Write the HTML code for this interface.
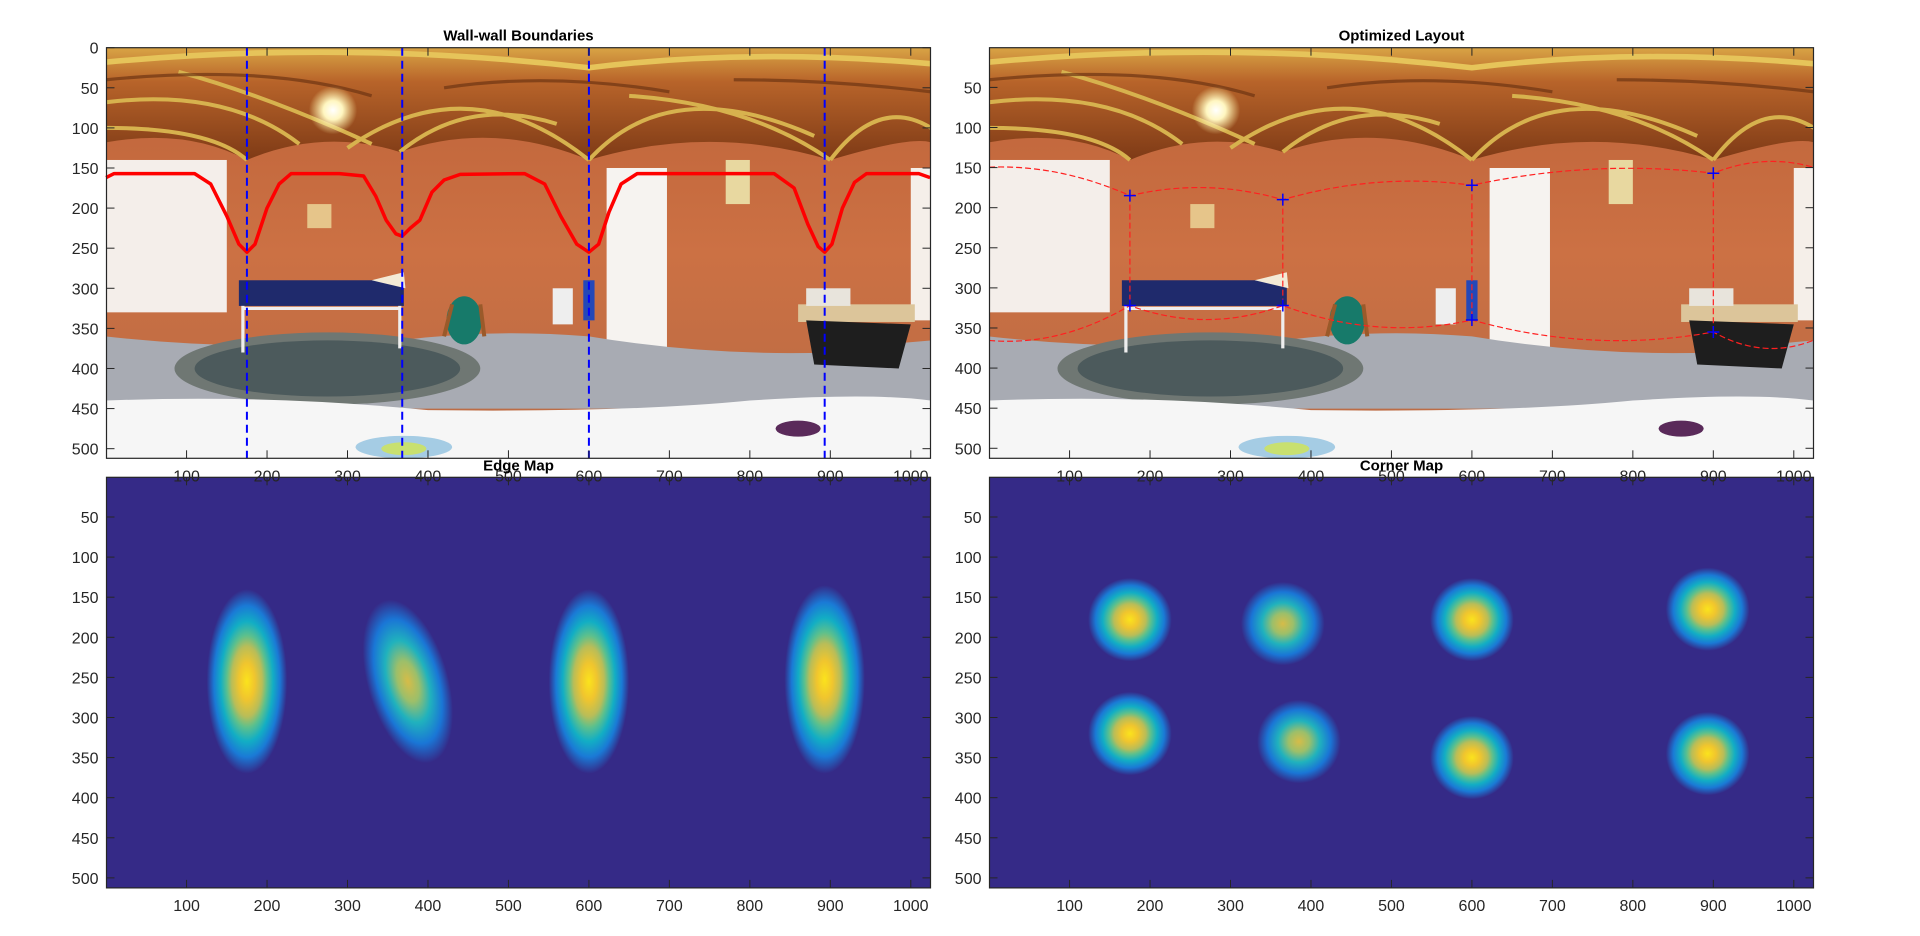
<!DOCTYPE html>
<html><head><meta charset="utf-8"><style>
html,body{margin:0;padding:0;background:#fff;width:1920px;height:936px;overflow:hidden}
text{font-family:"Liberation Sans",Arial,sans-serif}
</style></head><body>
<svg id="fig" width="1920" height="936" xmlns="http://www.w3.org/2000/svg">
<defs>
  <linearGradient id="ceil" x1="0" y1="0" x2="0" y2="1">
    <stop offset="0" stop-color="#d9a445"/><stop offset="0.3" stop-color="#b8642a"/><stop offset="1" stop-color="#7e3a16"/>
  </linearGradient>
  <linearGradient id="brick" x1="0" y1="0" x2="0" y2="1">
    <stop offset="0" stop-color="#bd6238"/><stop offset="0.5" stop-color="#cc7144"/><stop offset="1" stop-color="#b86a45"/>
  </linearGradient>
  <radialGradient id="lamp"><stop offset="0" stop-color="#ffffff"/><stop offset="0.4" stop-color="#fff6c0"/><stop offset="1" stop-color="#fff0a0" stop-opacity="0"/></radialGradient>
  <radialGradient id="par">
    <stop offset="0" stop-color="#fbe31c"/><stop offset="0.2" stop-color="#f0c52e"/><stop offset="0.38" stop-color="#b9bd58"/><stop offset="0.5" stop-color="#5cc08d"/>
    <stop offset="0.65" stop-color="#12aec4"/><stop offset="0.82" stop-color="#1a7ad6"/><stop offset="1" stop-color="#352a87"/>
  </radialGradient>
  <radialGradient id="parw">
    <stop offset="0" stop-color="#d6bc48"/><stop offset="0.25" stop-color="#9cbf6a"/><stop offset="0.5" stop-color="#20b2bd"/>
    <stop offset="0.76" stop-color="#1a76d6"/><stop offset="1" stop-color="#352a87"/>
  </radialGradient>
  <g id="photo">
    <rect x="0" y="0" width="1025" height="512" fill="url(#brick)"/>
    <path d="M0 0 H1025 V118 Q1000 110 900 140 Q750 95 600 140 Q480 90 365 130 Q270 100 175 140 Q100 100 0 118 Z" fill="url(#ceil)"/>
    <path d="M0 18 Q300 -10 600 25 Q800 0 1025 20" stroke="#e6c45a" stroke-width="7" fill="none"/>
    <path d="M0 68 Q150 50 240 120 M0 100 Q130 100 175 140 M300 125 Q450 20 600 140 M365 130 Q450 60 560 95 M600 140 Q700 30 880 110 M650 60 Q800 70 900 140 M900 140 Q960 60 1025 100 M90 30 Q200 60 330 120" stroke="#d7b24e" stroke-width="5" fill="none"/>
    <path d="M0 40 Q200 20 330 60 M420 50 Q550 30 700 55 M780 40 Q900 40 1025 55" stroke="#6d3412" stroke-width="4" fill="none" opacity="0.7"/>
    <circle cx="282" cy="78" r="30" fill="url(#lamp)"/>
    <rect x="0" y="140" width="150" height="190" fill="#f4eeea"/>
    <rect x="1000" y="150" width="25" height="190" fill="#f5efe9"/>
    <rect x="622" y="150" width="75" height="250" fill="#f6f3f0"/>
    <rect x="250" y="195" width="30" height="30" fill="#e6c58a"/>
    <rect x="770" y="140" width="30" height="55" fill="#e8d8a0"/>
    <path d="M0 360 Q175 380 365 365 Q480 350 600 360 Q750 385 900 380 Q960 370 1025 365 V450 H0 Z" fill="#a8abb3"/>
    <ellipse cx="275" cy="400" rx="190" ry="45" fill="#6f7773"/>
    <ellipse cx="275" cy="400" rx="165" ry="35" fill="#4c5a5c"/>
    <rect x="165" y="290" width="205" height="32" fill="#1f2a6c"/>
    <path d="M170 322 V380 M365 322 V375 M170 325 H365" stroke="#eeeeee" stroke-width="4" fill="none"/>
    <path d="M330 290 L370 280 L372 300 Z" fill="#f3ead6"/>
    <ellipse cx="445" cy="340" rx="22" ry="30" fill="#177a6a"/>
    <path d="M420 360 L430 320 M470 360 L465 320" stroke="#9a5a2a" stroke-width="5"/>
    <rect x="555" y="300" width="25" height="45" fill="#eeeeee"/>
    <rect x="593" y="290" width="14" height="50" fill="#2448b8"/>
    <rect x="860" y="320" width="145" height="22" fill="#dcc59a"/>
    <path d="M870 340 L1000 345 L985 400 L880 395 Z" fill="#1e1e1e"/>
    <rect x="870" y="300" width="55" height="22" fill="#e8e4dc"/>
    <path d="M0 440 Q200 432 400 452 Q650 455 800 440 Q950 430 1025 440 V512 H0 Z" fill="#f6f6f6"/>
    <ellipse cx="370" cy="498" rx="60" ry="14" fill="#6fb0d8" opacity="0.6"/>
    <ellipse cx="370" cy="500" rx="28" ry="8" fill="#c8e070"/>
    <ellipse cx="860" cy="475" rx="28" ry="10" fill="#5a2a5a"/>
  </g>
</defs>

<svg x="106.5" y="47.7" width="824" height="410.6" viewBox="0.5 0 1024 512" preserveAspectRatio="none"><use href="#photo"/></svg>
<svg x="989.5" y="47.7" width="824" height="410.6" viewBox="0.5 0 1024 512" preserveAspectRatio="none"><use href="#photo"/></svg>
<rect x="106.5" y="477.3" width="824" height="411" fill="#352a87"/>
<rect x="989.5" y="477.3" width="824" height="411" fill="#352a87"/>
<g id="marks"></g>
<g id="axes"></g>
</svg>
<script>
const boundaryX = [0,10,110,130,150,165,175,185,200,215,230,290,320,335,348,360,368,378,390,405,420,440,520,545,565,585,600,612,625,640,660,830,855,872,885,893,902,915,930,945,1010,1024];
const boundaryY = [162,157,157,170,210,245,255,245,200,170,157,157,160,185,215,232,235,225,215,180,165,158,157,170,210,245,255,245,205,170,157,157,175,220,248,255,245,200,168,157,157,162];
const wallEdgeX = [175,368,600,893];
const ceilCornerX = [175,365,600,900];
const ceilCornerY = [185,190,172,157];
const floorCornerX = [175,365,600,900];
const floorCornerY = [322,322,340,355];
const edgeBlobX = [175,375,600,893];
const edgeBlobTop = [140,150,140,135];
const edgeBlobBot = [370,360,370,370];
const edgeBlobTilt = [0,-16,0,0];
const edgeBlobStrong = [1,0,1,1];
const cornerBlobX = [175,365,600,893,175,385,600,893];
const cornerBlobY = [178,183,178,165,320,330,350,345];
const cornerBlobStrong = [1,0,1,1,1,0,1,1];
const xTicks = [100,200,300,400,500,600,700,800,900,1000];
const yTicksTL = [0,50,100,150,200,250,300,350,400,450,500];
const yTicks = [50,100,150,200,250,300,350,400,450,500];

const NS = 'http://www.w3.org/2000/svg';
const W = 824, H = 410.6;
const axesDef = [
  {name:'wall-wall-boundaries', title:'Wall-wall Boundaries', left:106.5, top:47.7, y0:0, yt:yTicksTL},
  {name:'optimized-layout', title:'Optimized Layout', left:989.5, top:47.7, y0:0.5, yt:yTicks},
  {name:'edge-map', title:'Edge Map', left:106.5, top:477.3, y0:0.5, yt:yTicks},
  {name:'corner-map', title:'Corner Map', left:989.5, top:477.3, y0:0.5, yt:yTicks}
];
function sx(a, v){ return a.left + (v-0.5)*W/1024; }
function sy(a, v){ return a.top + (v-a.y0)*H/512; }
function mk(tag, attrs, parent){ const e=document.createElementNS(NS,tag); for(const k in attrs) e.setAttribute(k,attrs[k]); parent.appendChild(e); return e; }
const marks = document.getElementById('marks');
const axesG = document.getElementById('axes');

{
  const a = axesDef[0];
  const d = boundaryX.map((x,i)=>(i?'L':'M')+sx(a,x).toFixed(1)+' '+sy(a,boundaryY[i]).toFixed(1)).join(' ');
  const p = mk('path',{d:d,stroke:'#ff0000','stroke-width':3.5,fill:'none','stroke-linejoin':'round'},marks);
  
  
  wallEdgeX.forEach((x,i)=>{
    const l = mk('line',{x1:sx(a,x),x2:sx(a,x),y1:a.top,y2:a.top+H,stroke:'#0000ff','stroke-width':2,'stroke-dasharray':'8 5'},marks);
    
    
  });
}
{
  const a = axesDef[1];
  function bowed(xs, ys, bow){
    let d = 'M'+sx(a,0)+' '+sy(a,ys[ys.length-1]+bow*0.3);
    d += ' Q'+sx(a,(xs[0])/2)+' '+sy(a,(ys[0]+ys[ys.length-1])/2+bow)+' '+sx(a,xs[0])+' '+sy(a,ys[0]);
    for(let i=1;i<xs.length;i++){
      d += ' Q'+sx(a,(xs[i-1]+xs[i])/2)+' '+sy(a,(ys[i-1]+ys[i])/2+bow)+' '+sx(a,xs[i])+' '+sy(a,ys[i]);
    }
    d += ' Q'+sx(a,(xs[xs.length-1]+1024)/2)+' '+sy(a,ys[ys.length-1]+bow)+' '+sx(a,1024)+' '+sy(a,ys[ys.length-1]+bow*0.3);
    return d;
  }
  const c = mk('path',{d:bowed(ceilCornerX,ceilCornerY,-25),stroke:'#ff2020','stroke-width':1.2,fill:'none','stroke-dasharray':'6 3'},marks);
  
  
  const f = mk('path',{d:bowed(floorCornerX,floorCornerY,35),stroke:'#ff2020','stroke-width':1.2,fill:'none','stroke-dasharray':'6 3'},marks);
  
  
  ceilCornerX.forEach((x,i)=>{
    const l = mk('line',{x1:sx(a,x),x2:sx(a,floorCornerX[i]),y1:sy(a,ceilCornerY[i]),y2:sy(a,floorCornerY[i]),stroke:'#ff2020','stroke-width':1.2,'stroke-dasharray':'6 3'},marks);
    
    
  });
  const pts = ceilCornerX.map((x,i)=>[x,ceilCornerY[i]]).concat(floorCornerX.map((x,i)=>[x,floorCornerY[i]]));
  pts.forEach(p=>{
    const X=sx(a,p[0]), Y=sy(a,p[1]);
    const m = mk('path',{d:`M${X-6} ${Y}H${X+6}M${X} ${Y-6}V${Y+6}`,stroke:'#0000ff','stroke-width':1.5},marks);
    
    
  });
}
{
  const a = axesDef[2];
  edgeBlobX.forEach((x,i)=>{
    const cy = (edgeBlobTop[i]+edgeBlobBot[i])/2;
    const cxp = sx(a,x), cyp = sy(a,cy);
    const e = mk('ellipse',{cx:cxp,cy:cyp,rx:50*W/1024,ry:(edgeBlobBot[i]-edgeBlobTop[i])/2*H/512,fill:edgeBlobStrong[i]?'url(#par)':'url(#parw)',transform:`rotate(${edgeBlobTilt[i]} ${cxp} ${cyp})`},marks);
    
    
  });
}
{
  const a = axesDef[3];
  cornerBlobX.forEach((x,i)=>{
    const e = mk('ellipse',{cx:sx(a,x),cy:sy(a,cornerBlobY[i]),rx:52*W/1024,ry:52*H/512,fill:cornerBlobStrong[i]?'url(#par)':'url(#parw)'},marks);
    
    
  });
}
axesDef.forEach(a=>{
  const g = mk('g',{},axesG);
  
  
  mk('rect',{x:a.left,y:a.top,width:W,height:H,fill:'none',stroke:'#262626','stroke-width':1.2},g);
  const t = mk('text',{x:a.left+W/2,y:a.top-7,'text-anchor':'middle','font-size':15,'font-weight':'bold',fill:'#000'},g);
  t.textContent = a.title;
  
  
  xTicks.forEach(v=>{
    const X = sx(a,v);
    mk('line',{x1:X,x2:X,y1:a.top+H,y2:a.top+H-8,stroke:'#262626','stroke-width':1},g);
    mk('line',{x1:X,x2:X,y1:a.top,y2:a.top+8,stroke:'#262626','stroke-width':1},g);
    const tx = mk('text',{x:X,y:a.top+H+23,'text-anchor':'middle','font-size':16,fill:'#262626'},g);
    tx.textContent = v;
    
    
  });
  a.yt.forEach(v=>{
    const Y = sy(a,v);
    mk('line',{x1:a.left,x2:a.left+8,y1:Y,y2:Y,stroke:'#262626','stroke-width':1},g);
    mk('line',{x1:a.left+W,x2:a.left+W-8,y1:Y,y2:Y,stroke:'#262626','stroke-width':1},g);
    const ty = mk('text',{x:a.left-8,y:Y+6,'text-anchor':'end','font-size':16,fill:'#262626'},g);
    ty.textContent = v;
    
    
  });
});
</script>
</body></html>
